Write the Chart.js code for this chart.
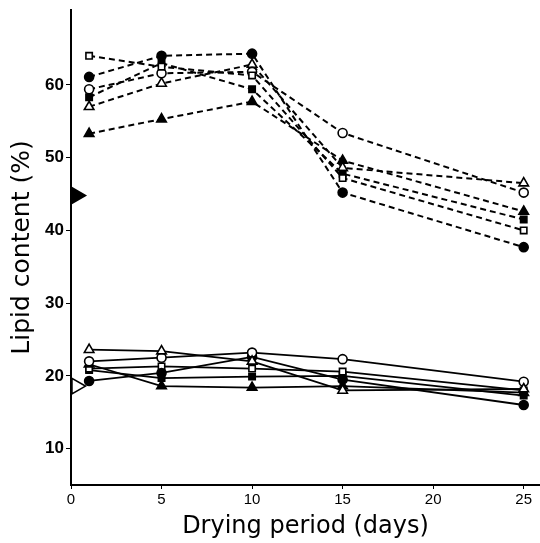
<!DOCTYPE html>
<html>
<head>
<meta charset="utf-8">
<script src="https://cdn.jsdelivr.net/npm/chart.js@4"></script>
<style>
  html, body { margin: 0; padding: 0; background: #fff; }
  #wrap { width: 540px; height: 543px; }
</style>
</head>
<body>
<div id="wrap"><canvas id="lipidChart"></canvas></div>
<script>
// dias de secado
const days = [1, 5, 10, 15, 25];

// grupo superior (lineas discontinuas)
const hiOpenSquare    = [64.0, 62.5, 61.3, 47.2, 40.0];
const hiFilledCircle  = [61.1, 64.0, 64.3, 45.2, 37.7];
const hiOpenCircle    = [59.4, 61.6, 61.8, 53.4, 45.2];
const hiFilledSquare  = [58.3, 63.0, 59.4, 47.8, 41.5];
const hiOpenTriangle  = [57.0, 60.2, 62.8, 48.6, 46.5];
const hiFilledTriangle = [53.3, 55.3, 57.7, 49.6, 42.6];

// grupo inferior (lineas continuas)
const loOpenTriangle  = [23.6, 23.4, 22.0, 18.0, 18.2];
const loOpenCircle    = [22.0, 22.5, 23.2, 22.3, 19.2];
const loFilledCircle  = [19.3, 20.4, 22.6, 19.5, 16.0];
const loFilledTriangle = [21.6, 18.6, 18.4, 18.6, 17.7];
const loOpenSquare    = [21.0, 21.3, 21.0, 20.6, 18.0];
const loFilledSquare  = [20.8, 19.7, 19.9, 20.0, 17.3];

// valores iniciales marcados sobre el eje Y
const initialHigh = 44.8;
const initialLow = 18.6;

// etiquetas de los ejes
const xTicks = [0, 5, 10, 15, 20, 25];
const yTicks = [10, 20, 30, 40, 50, 60];

function serie(values, style, filled, dashed) {
    return {
        data: days.map((d, i) => ({ x: d, y: values[i] })),
        borderColor: "#000",
        borderWidth: dashed ? 2 : 1.8,
        borderDash: dashed ? [6, 4] : [],
        pointStyle: style,
        pointRadius: style === "triangle" ? 5.5 : 4.5,
        pointBackgroundColor: filled ? "#000" : "#fff",
        pointBorderColor: "#000",
        pointBorderWidth: 1.6,
        showLine: true,
        fill: false,
        tension: 0,
        clip: false
    };
}

function flecha(value, filled) {
    return {
        data: [{ x: 0.3, y: value }],
        showLine: false,
        pointStyle: "triangle",
        rotation: 90,
        pointRadius: 9,
        pointBackgroundColor: filled ? "#000" : "#fff",
        pointBorderColor: "#000",
        pointBorderWidth: 1.6,
        clip: false
    };
}

const datasets = [
    serie(hiOpenSquare, "rect", false, true),
    serie(hiFilledCircle, "circle", true, true),
    serie(hiOpenCircle, "circle", false, true),
    serie(hiFilledSquare, "rect", true, true),
    serie(hiOpenTriangle, "triangle", false, true),
    serie(hiFilledTriangle, "triangle", true, true),
    serie(loOpenTriangle, "triangle", false, false),
    serie(loOpenCircle, "circle", false, false),
    serie(loFilledCircle, "circle", true, false),
    serie(loFilledTriangle, "triangle", true, false),
    serie(loOpenSquare, "rect", false, false),
    serie(loFilledSquare, "rect", true, false),
    flecha(initialHigh, true),
    flecha(initialLow, false)
];

const ctx = document.getElementById("lipidChart").getContext("2d");

new Chart(ctx, {
    type: "scatter",
    data: { datasets: datasets },
    options: {
        responsive: true,
        maintainAspectRatio: false,
        animation: false,
        layout: {
            autoPadding: false,
            padding: { top: 10, right: 0, left: 0, bottom: 0 }
        },
        plugins: {
            legend: { display: false },
            tooltip: { enabled: false }
        },
        scales: {
            x: {
                type: "linear",
                min: 0,
                max: 25.9,
                afterBuildTicks: s => { s.ticks = xTicks.map(v => ({ value: v })); },
                afterFit: s => {
                    s.height = 58;
                    s.paddingLeft = 0;
                    s.paddingRight = 0;
                },
                border: { display: true, color: "#000", width: 2 },
                grid: { drawOnChartArea: false, drawTicks: true, tickLength: 4, color: "#000" },
                ticks: {
                    color: "#000",
                    padding: 2,
                    maxRotation: 0,
                    font: { family: "Liberation Sans", size: 15 }
                },
                title: {
                    display: true,
                    text: "Drying period (days)",
                    color: "#000",
                    padding: { top: 0, bottom: 2 },
                    font: { family: "DejaVu Sans", size: 24 }
                }
            },
            y: {
                type: "linear",
                min: 5,
                max: 70.3,
                afterBuildTicks: s => { s.ticks = yTicks.map(v => ({ value: v })); },
                afterFit: s => {
                    s.width = 71;
                    s.paddingTop = 0;
                    s.paddingBottom = 0;
                },
                border: { display: true, color: "#000", width: 2 },
                grid: { drawOnChartArea: false, drawTicks: true, tickLength: 5, color: "#000" },
                ticks: {
                    color: "#000",
                    padding: 2,
                    font: { family: "Liberation Sans", size: 17, weight: "bold" }
                },
                title: {
                    display: true,
                    text: "Lipid content (%)",
                    color: "#000",
                    padding: { top: 7, bottom: 0 },
                    font: { family: "DejaVu Sans", size: 25 }
                }
            }
        }
    }
});
</script>
</body>
</html>
